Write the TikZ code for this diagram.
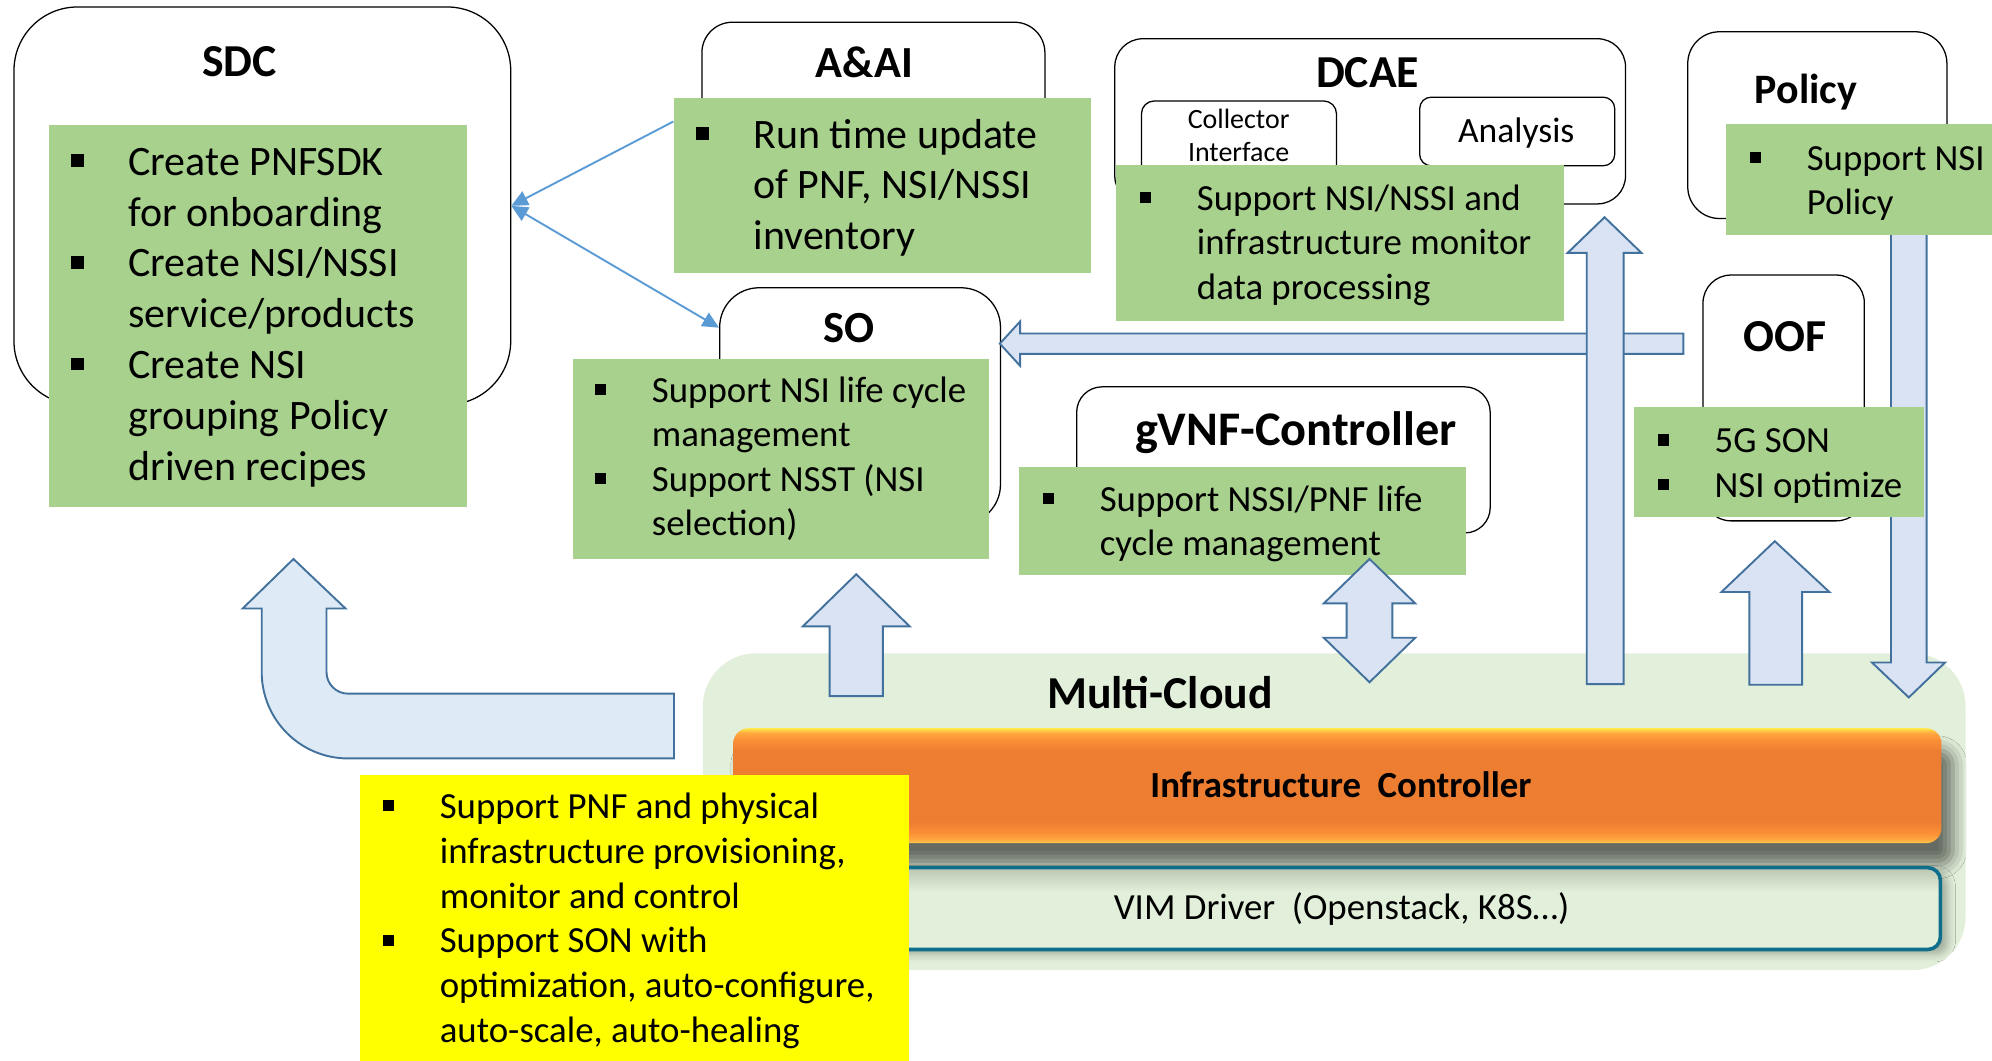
\documentclass[tikz,border=0pt]{standalone}
\usepackage{fontspec}
\setmainfont{Carlito}
\usetikzlibrary{arrows.meta,shadows.blur}

\definecolor{gfill}{HTML}{A9D18E}
\definecolor{afill}{HTML}{DAE3F3}
\definecolor{afillb}{HTML}{DEEBF7}
\definecolor{astroke}{HTML}{41719C}
\definecolor{lblue}{HTML}{5B9BD5}
\definecolor{mcfill}{HTML}{E2EFDA}
\definecolor{ylw}{HTML}{FFFF00}
\definecolor{vimline}{HTML}{0F6E8C}
\definecolor{vimfill}{HTML}{E2EFDA}
\definecolor{vimshade}{HTML}{BCC7B2}
\definecolor{omain}{HTML}{ED7D31}
\definecolor{olite}{HTML}{FB8F36}
\definecolor{oglow}{HTML}{FFAA40}
\definecolor{oedge}{HTML}{FFC84A}
\definecolor{otop}{HTML}{FFE84A}

% bevelled orange bar; the path is fitted to the band from 25bp (bottom) to 75bp (top)
\pgfdeclareverticalshading{orangebevel}{100bp}{%
  color(0bp)=(oedge); color(25bp)=(oedge); color(26.5bp)=(oglow); color(29.5bp)=(olite);
  color(34.5bp)=(omain); color(65bp)=(omain); color(70bp)=(olite); color(73bp)=(oglow);
  color(75bp)=(otop); color(100bp)=(otop)}

% square bullets with a fixed hanging indent
\newcommand{\sqb}{\rule[0.2em]{0.3em}{0.3em}}
\newcommand{\bitem}[1]{\hbox{\makebox[45pt][l]{\sqb}#1}}
\newcommand{\bcont}[1]{\hbox{\hspace*{45pt}#1}}

\begin{document}
\begin{tikzpicture}[x=1pt, y=-1pt,
  rbox/.style={draw=black, line width=1pt, fill=white, inner sep=0pt, anchor=north west},
  gbox/.style={fill=gfill, draw=none, inner sep=0pt, anchor=north west},
  ttl/.style={anchor=base, inner sep=0pt, font=\fontsize{36}{43}\selectfont\bfseries},
  lbig/.style={anchor=base west, inner sep=0pt, font=\fontsize{33}{40}\selectfont},
  lsmall/.style={anchor=base west, inner sep=0pt, font=\fontsize{29}{35}\selectfont},
  blockarrow/.style={fill=afill, draw=astroke, line width=1.5pt, line join=miter},
  link/.style={draw=lblue, line width=1.5pt},
  linktip/.tip={Triangle[length=13pt,width=12pt]}
]
\useasboundingbox (0,0) rectangle (1568,835);

% ---------- Multi-Cloud ----------
\node[fill=mcfill, rounded corners=42pt, inner sep=0pt, anchor=north west,
      minimum width=994pt, minimum height=249.5pt] (mc) at (553,514) {};
\node[ttl] (mct) at (913,558) {Multi-Cloud};

\node[shade, shading=orangebevel, rounded corners=12pt, inner sep=0pt, anchor=north west,
      minimum width=951pt, minimum height=90.5pt,
      blur shadow={shadow xshift=9pt, shadow yshift=-17pt, shadow blur radius=11pt, shadow opacity=55}]
      (infra) at (577,573) {};
\node[anchor=base, inner sep=0pt, font=\fontsize{29}{35}\selectfont\bfseries] (infrat)
      at (1055.5,627.5) {Infrastructure\ \ Controller};

% VIM driver bar: light fill, shadowed top band, teal outline
\node[fill=vimfill, rounded corners=10pt, inner sep=0pt, anchor=north west,
      minimum width=927pt, minimum height=64pt,
      blur shadow={shadow xshift=6pt, shadow yshift=-4pt, shadow blur radius=6pt, shadow opacity=28}]
      (vim) at (600,683) {};
\begin{scope}
  \clip[rounded corners=10pt] (vim.north west) rectangle (vim.south east);
  \shade[top color=vimshade, bottom color=vimfill] (600,683) rectangle (1527,702);
\end{scope}
\draw[vimline, line width=2.8pt, rounded corners=10pt] (vim.north west) rectangle (vim.south east);
\node[anchor=base, inner sep=0pt, font=\fontsize{29}{35}\selectfont] (vimt)
      at (1056,723.5) {VIM Driver\ \ (Openstack, K8S…)};

% ---------- Multi-Cloud notes ----------
\node[fill=ylw, inner sep=0pt, anchor=north west, minimum width=432pt, minimum height=226pt]
      (mcn) at (283,610) {};
\node[anchor=base west, inner sep=0pt, font=\fontsize{29}{35.2}\selectfont] (mcnl) at (301,644.5)
  {\vtop{\bitem{Support PNF and physical}\bcont{infrastructure provisioning,}\bcont{monitor and control}%
         \bitem{Support SON with}\bcont{optimization, auto-configure,}\bcont{auto-scale, auto-healing}}};

% ---------- Policy (its down arrow passes behind the OOF notes) ----------
\draw[blockarrow] (1488.5,180) -- (1516.5,180) -- (1516.5,521.5) -- (1531,521.5) -- (1502.5,549)
  -- (1473.5,521.5) -- (1488.5,521.5) -- cycle;
\node[rbox, rounded corners=25pt, minimum width=204pt, minimum height=147pt] (pol) at (1328,24.5) {};
\node[gbox, minimum width=209.5pt, minimum height=87.5pt] (polg) at (1358.5,97.5) {};
\node[ttl, font=\fontsize{33}{40}\selectfont\bfseries] (polt) at (1421.5,81.5) {Policy};
\node[lsmall] (poll) at (1377,134) {\vtop{\bitem{Support NSI}\bcont{Policy}}};

% ---------- SDC ----------
\node[rbox, rounded corners=50pt, minimum width=391pt, minimum height=313pt] (sdc) at (10.5,5) {};
\node[gbox, minimum width=328.5pt, minimum height=300pt] (sdcg) at (38.5,98.5) {};
\node[ttl] (sdct) at (188.5,60) {SDC};
\node[lbig] (sdcl) at (56,138)
  {\vtop{\bitem{Create PNFSDK}\bcont{for onboarding}\bitem{Create NSI/NSSI}\bcont{service/products}%
         \bitem{Create NSI}\bcont{grouping Policy}\bcont{driven recipes}}};

% ---------- A&AI ----------
\node[rbox, rounded corners=24pt, minimum width=270pt, minimum height=143pt] (aai) at (552,17) {};
\node[gbox, minimum width=328.5pt, minimum height=137.5pt] (aaig) at (530,77) {};
\node[ttl, font=\fontsize{35}{42}\selectfont\bfseries] (aait) at (680.5,61) {A\&AI};
\node[lbig] (aail) at (548,116.5)
  {\vtop{\bitem{Run time update}\bcont{of PNF, NSI/NSSI}\bcont{inventory}}};

% ---------- DCAE ----------
\node[rbox, rounded corners=22pt, minimum width=402pt, minimum height=130pt] (dcae) at (877,30) {};
\node[rbox, rounded corners=10pt, minimum width=153.5pt, minimum height=61pt] (coll) at (898,79) {};
\node[rbox, rounded corners=9pt, minimum width=153.5pt, minimum height=54pt] (ana) at (1117,76) {};
\node[anchor=base, inner sep=0pt, font=\fontsize{22}{26}\selectfont] (collt1) at (975,101) {Collector};
\node[anchor=base, inner sep=0pt, font=\fontsize{22}{26}\selectfont] (collt2) at (975,127) {Interface};
\node[anchor=base, inner sep=0pt, font=\fontsize{28}{34}\selectfont] (anat) at (1193.5,112.5) {Analysis};
\node[ttl] (dcaet) at (1076.5,68.5) {DCAE};
\node[gbox, minimum width=352.5pt, minimum height=122.5pt] (dcaeg) at (878.5,130) {};
\node[lsmall] (dcael) at (897,165.5)
  {\vtop{\bitem{Support NSI/NSSI and}\bcont{infrastructure monitor}\bcont{data processing}}};

% ---------- SO ----------
\node[rbox, rounded corners=31pt, minimum width=221pt, minimum height=186pt] (so) at (566,226) {};
\node[gbox, minimum width=327.5pt, minimum height=158pt] (sog) at (451,282) {};
\node[ttl, font=\fontsize{35}{42}\selectfont\bfseries] (sot) at (668,269.5) {SO};
\node[lsmall] (sol) at (468,316.5)
  {\vtop{\bitem{Support NSI life cycle}\bcont{management}\bitem{Support NSST (NSI}\bcont{selection)}}};

% ---------- gVNF-Controller ----------
\node[rbox, rounded corners=20pt, minimum width=325.5pt, minimum height=115pt] (gvnf) at (847,304) {};
\node[gbox, minimum width=351.5pt, minimum height=85pt] (gvnfg) at (802,367.5) {};
\node[ttl, font=\fontsize{38}{45}\selectfont\bfseries] (gvnft) at (1020,351) {gVNF-Controller};
\node[lsmall] (gvnfl) at (820.5,402.5)
  {\vtop{\bitem{Support NSSI/PNF life}\bcont{cycle management}}};

% ---------- OOF ----------
\node[rbox, rounded corners=22pt, minimum width=127pt, minimum height=193.5pt] (oof) at (1340,216) {};
\node[gbox, minimum width=228pt, minimum height=86.5pt] (oofg) at (1286,320) {};
\node[ttl] (ooft) at (1405,276.5) {OOF};
\node[lsmall] (oofl) at (1304.5,356.5) {\vtop{\bitem{5G SON}\bitem{NSI optimize}}};

% ---------- block arrows ----------
% bent arrow from Multi-Cloud up to SDC
\draw[blockarrow, fill=afillb] (231,440) -- (272,479) -- (257,479) -- (257,529)
  arc[start angle=180, end angle=270, radius=17pt] -- (530.5,546) -- (530.5,597) -- (274,597)
  arc[start angle=270, end angle=180, radius=68pt] -- (206,479) -- (191,479) -- cycle;
% up to SO
\draw[blockarrow] (674,452) -- (716,493) -- (695,493) -- (695,548) -- (653,548) -- (653,493)
  -- (632,493) -- cycle;
% gVNF-Controller <-> Multi-Cloud
\draw[blockarrow] (1078,440) -- (1114,475) -- (1096,475) -- (1096,502) -- (1114,502) -- (1078,537)
  -- (1042,502) -- (1060,502) -- (1060,475) -- (1042,475) -- cycle;
% OOF side to SO
\draw[blockarrow] (787,270.5) -- (803,253) -- (803,262.5) -- (1325,262.5) -- (1325,278.5)
  -- (803,278.5) -- (803,288) -- cycle;
% up to DCAE
\draw[blockarrow] (1263,171) -- (1292,199) -- (1278,199) -- (1278,538.5) -- (1249,538.5)
  -- (1249,199) -- (1234,199) -- cycle;
% up to OOF
\draw[blockarrow] (1397,426) -- (1440,466) -- (1418.5,466) -- (1418.5,539) -- (1377,539)
  -- (1377,466) -- (1355,466) -- cycle;

% ---------- thin links ----------
\draw[link, -linktip] (aaig.163.8) -- (sdc.east);
\draw[link, linktip-linktip] (sdc.east) -- (so.151);

\end{tikzpicture}
\end{document}
